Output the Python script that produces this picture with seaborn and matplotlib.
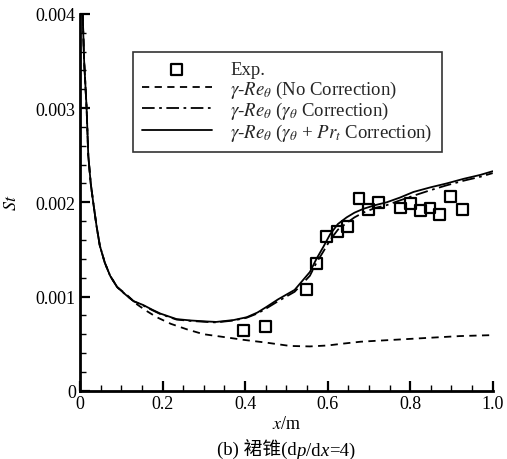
import numpy as np
import pandas as pd
import matplotlib
matplotlib.use("Agg")
import matplotlib.pyplot as plt
from matplotlib.ticker import MultipleLocator, FixedLocator
from matplotlib.offsetbox import TextArea, HPacker, AnchoredOffsetbox
import seaborn as sns

# experiment (squares)
exp_x = [0.397, 0.450, 0.549, 0.574, 0.598, 0.624, 0.648, 0.676, 0.700, 0.724,
         0.776, 0.801, 0.825, 0.848, 0.872, 0.898, 0.926]
exp_st = [0.64, 0.68, 1.07, 1.35, 1.64, 1.69, 1.74, 2.04, 1.92, 2.00,
          1.94, 1.99, 1.91, 1.94, 1.87, 2.06, 1.92]

# gamma-Re_theta (gamma_theta + Pr_t correction), solid
full_x = [0.0065, 0.010, 0.016, 0.020, 0.026, 0.032, 0.040, 0.048, 0.060, 0.073,
          0.090, 0.113, 0.130, 0.153, 0.175, 0.194, 0.234, 0.270, 0.307, 0.330,
          0.372, 0.404, 0.430, 0.452, 0.480, 0.520, 0.557, 0.573, 0.590, 0.606,
          0.625, 0.646, 0.665, 0.686, 0.715, 0.743, 0.775, 0.808, 0.850, 0.888,
          0.930, 0.969, 1.0]
full_st = [4.0, 3.5, 3.0, 2.5, 2.2, 2.0, 1.75, 1.54, 1.36, 1.22,
           1.10, 1.01, 0.95, 0.91, 0.86, 0.82, 0.76, 0.745, 0.735, 0.73,
           0.75, 0.78, 0.83, 0.89, 0.97, 1.07, 1.26, 1.40, 1.53, 1.66,
           1.77, 1.84, 1.89, 1.93, 1.97, 2.00, 2.05, 2.11, 2.16, 2.20,
           2.25, 2.29, 2.33]

# gamma-Re_theta (gamma_theta correction), dash-dot
gt_x = [0.0065, 0.010, 0.016, 0.020, 0.026, 0.032, 0.040, 0.048, 0.060, 0.073,
        0.090, 0.113, 0.130, 0.153, 0.175, 0.194, 0.234, 0.270, 0.307, 0.330,
        0.372, 0.404, 0.430, 0.452, 0.480, 0.520, 0.557, 0.573, 0.590, 0.606,
        0.625, 0.646, 0.665, 0.686, 0.715, 0.743, 0.775, 0.808, 0.850, 0.888,
        0.930, 0.969, 1.0]
gt_st = [4.0, 3.5, 3.0, 2.5, 2.2, 2.0, 1.75, 1.54, 1.36, 1.22,
         1.10, 1.01, 0.95, 0.905, 0.855, 0.815, 0.755, 0.74, 0.73, 0.725,
         0.745, 0.775, 0.82, 0.875, 0.95, 1.05, 1.22, 1.36, 1.48, 1.60,
         1.71, 1.78, 1.84, 1.89, 1.94, 1.97, 2.02, 2.07, 2.13, 2.18,
         2.23, 2.27, 2.31]

# gamma-Re_theta (no correction), dashed
nc_x = [0.0065, 0.010, 0.016, 0.020, 0.026, 0.032, 0.040, 0.048, 0.060, 0.073,
        0.090, 0.113, 0.137, 0.160, 0.186, 0.220, 0.260, 0.299, 0.340, 0.396,
        0.452, 0.509, 0.557, 0.600, 0.638, 0.680, 0.719, 0.780, 0.840, 0.921, 1.0]
nc_st = [4.0, 3.5, 3.0, 2.5, 2.2, 2.0, 1.75, 1.54, 1.36, 1.22,
         1.10, 1.02, 0.92, 0.85, 0.78, 0.71, 0.65, 0.60, 0.575, 0.54,
         0.51, 0.475, 0.47, 0.48, 0.50, 0.52, 0.53, 0.545, 0.56, 0.58, 0.59]

labels = ["Exp.",
          r"$\gamma$-$Re_\theta$ (No Correction)",
          r"$\gamma$-$Re_\theta$ ($\gamma_\theta$ Correction)",
          r"$\gamma$-$Re_\theta$ ($\gamma_\theta$ + $Pr_t$ Correction)"]

sns.set_theme(style="ticks")
plt.rcParams["font.family"] = ["Liberation Serif", "Noto Sans CJK SC"]
plt.rcParams["mathtext.fontset"] = "stix"

fig = plt.figure(figsize=(5.07, 4.60), dpi=100)
ax = fig.add_axes([0.1578, 0.1485, 0.814, 0.819])

sc = lambda v: np.array(v) * 1e-3

sns.scatterplot(x=exp_x, y=sc(exp_st), ax=ax, marker="s", s=62,
                facecolor="none", edgecolor="black", linewidth=1.6,
                label=labels[0], zorder=3)
sns.lineplot(x=nc_x, y=sc(nc_st), ax=ax, color="black", lw=1.3,
             linestyle=(0, (4, 3)), label=labels[1], sort=False)
sns.lineplot(x=gt_x, y=sc(gt_st), ax=ax, color="black", lw=1.3,
             linestyle=(0, (7, 2.5, 1.5, 2.5)), label=labels[2], sort=False)
sns.lineplot(x=full_x, y=sc(full_st), ax=ax, color="black", lw=1.3,
             linestyle="-", label=labels[3], sort=False)

ax.set_xlim(0, 1.0)
ax.set_ylim(0, 0.004)
ax.xaxis.set_major_locator(FixedLocator([0, 0.2, 0.4, 0.6, 0.8, 1.0]))
ax.set_xticklabels(["0", "0.2", "0.4", "0.6", "0.8", "1.0"])
ax.xaxis.set_minor_locator(MultipleLocator(0.05))
ax.yaxis.set_major_locator(FixedLocator([0, 0.001, 0.002, 0.003, 0.004]))
ax.set_yticklabels(["0", "0.001", "0.002", "0.003", "0.004"])
ax.yaxis.set_minor_locator(MultipleLocator(0.0002))
ax.tick_params(which="major", direction="in", length=7, width=1.6,
               labelsize=13, colors="black", pad=3)
ax.tick_params(which="minor", direction="in", length=4, width=1.0, colors="black")
for side in ["top", "right"]:
    ax.spines[side].set_visible(False)
for side in ["left", "bottom"]:
    ax.spines[side].set_linewidth(2.0)
    ax.spines[side].set_color("black")

ax.set_xlabel("$x$/m", fontsize=13, labelpad=2, color="black")
ax.set_ylabel("$St$", fontsize=13, labelpad=11, color="black")

leg = ax.legend(loc="upper left", bbox_to_anchor=(0.128, 0.9), fontsize=13.5,
                frameon=True, fancybox=False, edgecolor="black",
                handlelength=3.7, handletextpad=1.0, labelspacing=0.02,
                borderpad=0.5, borderaxespad=0)
leg.get_frame().set_linewidth(1.2)

# caption with italic p and x
cap_fs = 13.5
parts = [TextArea("(b) 裙锥(d", textprops=dict(fontsize=cap_fs, color="black")),
         TextArea("p", textprops=dict(fontsize=cap_fs, style="italic", color="black")),
         TextArea("/d", textprops=dict(fontsize=cap_fs, color="black")),
         TextArea("x", textprops=dict(fontsize=cap_fs, style="italic", color="black")),
         TextArea("=4)", textprops=dict(fontsize=cap_fs, color="black"))]
box = HPacker(children=parts, align="baseline", pad=0, sep=0)
cap = AnchoredOffsetbox(loc="center", child=box, frameon=False, pad=0,
                        bbox_to_anchor=(286 / 507, 1 - 450 / 460),
                        bbox_transform=fig.transFigure, borderpad=0)
fig.add_artist(cap)

fig.savefig("out.png", dpi=100)
